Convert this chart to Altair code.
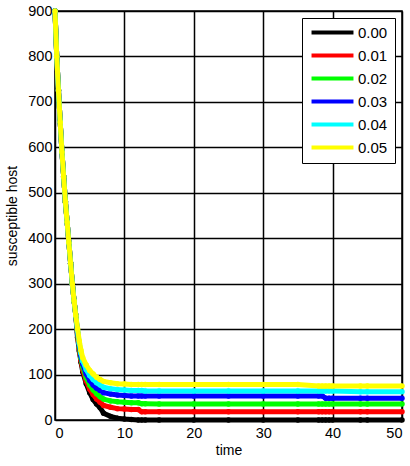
import altair as alt
import pandas as pd

series = ["0.00", "0.01", "0.02", "0.03", "0.04", "0.05"]
colors = ["#000000", "#ff0000", "#00ff00", "#0000ff", "#00ffff", "#ffff00"]

times = [0, 0.25, 0.5, 0.75, 1, 1.25, 1.5, 1.75, 2, 2.25, 2.5, 2.75, 3, 3.25, 3.5, 3.75,
         4, 4.5, 5, 5.5, 6, 6.5, 7, 8, 9, 10, 11, 12, 12.5, 13, 15, 20, 25, 30, 35,
         38, 38.5, 39, 39.5, 40, 44, 45, 50]

early = [900, 800, 725, 655, 590, 535, 480, 435, 390, 345, 300, 262, 230]

s000 = early + [182, 152, 127, 106, 80, 60, 45, 35, 27, 15, 8, 4, 2, 1, 0, 0, 0, 0, 0, 0, 0, 0, 0, 0, 0, 0, 0, 0, 0, 0, 0]
s001 = early + [185, 156, 131, 111, 86, 68, 56, 46, 39, 32, 28, 25, 24, 23, 23, 18, 18, 18, 18, 18, 18, 18, 18, 18, 18, 18, 18, 18, 18, 18, 18]
s002 = early + [189, 160, 136, 117, 93, 77, 66, 58, 51, 46, 42, 40, 39, 38, 38, 36, 36, 35, 35, 35, 35, 35, 35, 35, 35, 35, 35, 35, 35, 35, 35]
s003 = early + [193, 164, 141, 123, 101, 87, 77, 70, 65, 60, 57, 55, 54, 53, 53, 53, 53, 53, 53, 53, 53, 53, 53, 53, 48, 48, 48, 48, 48, 48, 48]
s004 = early + [197, 169, 147, 130, 111, 98, 89, 82, 77, 72, 69, 67, 66, 65, 65, 65, 64, 64, 64, 64, 64, 64, 64, 64, 64, 64, 64, 62, 62, 62, 62]
s005 = early + [201, 174, 153, 137, 121, 109, 101, 94, 89, 85, 82, 80, 79, 78, 78, 78, 78, 78, 78, 78, 78, 78, 75, 75, 75, 75, 75, 75, 75, 75, 75]

all_vals = [s000, s001, s002, s003, s004, s005]

rows = []
for name, vals in zip(series, all_vals):
    for t, v in zip(times, vals):
        rows.append({"time": t, "S": v, "rate": name})
df = pd.DataFrame(rows)

color_scale = alt.Scale(domain=series, range=colors)
xs = alt.X("time:Q", scale=alt.Scale(domain=[0, 50], nice=False),
           axis=alt.Axis(values=[0, 10, 20, 30, 40, 50], title="time"))
ys = alt.Y("S:Q", scale=alt.Scale(domain=[0, 900], nice=False),
           axis=alt.Axis(values=[0, 100, 200, 300, 400, 500, 600, 700, 800, 900],
                         title="susceptible host"))

layers = []
for i, name in enumerate(series):
    sub = df[df.rate == name]
    line = alt.Chart(sub).mark_line(strokeWidth=5).encode(
        x=xs, y=ys,
        color=alt.Color("rate:N", scale=color_scale,
                        legend=alt.Legend(title=None, orient="top-right", offset=7,
                                          symbolType="M-4,0H4", symbolStrokeWidth=4,
                                          symbolSize=110, symbolOffset=16,
                                          labelFontSize=15,
                                          labelFont="Liberation Sans", labelColor="black",
                                          strokeColor="black", fillColor="white",
                                          padding=7, rowPadding=6, labelOffset=18)))
    pts = alt.Chart(sub).mark_point(filled=True, size=30, opacity=1).encode(
        x=xs, y=ys, color=alt.Color("rate:N", scale=color_scale, legend=None))
    layers += [line, pts]

chart = alt.layer(*layers).properties(
    width=347, height=409,
    padding={"left": 55, "top": 11, "right": 8, "bottom": 46},
    autosize=alt.AutoSizeParams(type="none"),
    background="white",
).configure_view(stroke="black", strokeWidth=1.5).configure_axis(
    grid=True, gridColor="black", gridOpacity=1, gridWidth=1.5,
    domain=False, ticks=False,
    labelFont="Liberation Sans", labelFontSize=14.5, labelColor="black",
    titleFont="Liberation Sans", titleFontSize=14, titleFontWeight="normal", titleColor="black",
).configure_axisY(titlePadding=8, labelPadding=3).configure_axisX(titlePadding=4, labelPadding=6)

chart.save("out.html", embed_options={"renderer": "svg", "actions": False})
